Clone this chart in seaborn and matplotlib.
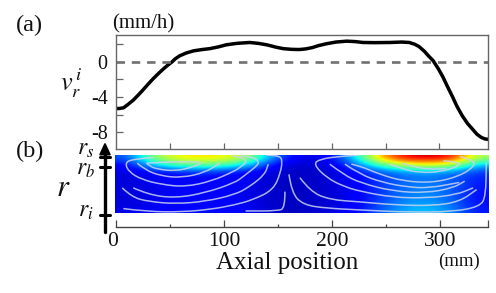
import numpy as np
import pandas as pd
import matplotlib.pyplot as plt
from matplotlib.path import Path
from matplotlib.patches import PathPatch
from matplotlib.transforms import ScaledTranslation
import seaborn as sns

W, H = 496, 293

# (a) radial velocity along the axis
axial_mm = [0, 3, 7, 11, 16, 20, 25, 30, 35, 40, 44, 48, 52, 55, 59, 65, 72, 80, 87, 95, 102, 112, 124,
            132, 140, 148, 155, 163, 170, 176, 182, 188, 195, 204, 214, 222, 229, 240, 254, 265, 272,
            277, 281, 286, 290, 294, 299, 303, 307, 312, 316, 321, 326, 331, 335, 339, 342, 345]
v_r = [-5.3, -5.3, -5.22, -4.85, -4.35, -3.85, -3.2, -2.5, -1.85, -1.25, -0.8, -0.38, 0, 0.35, 0.68, 1.0,
       1.25, 1.4, 1.5, 1.7, 1.93, 2.1, 2.2, 2.1, 1.93, 1.68, 1.5, 1.42, 1.4, 1.47, 1.62, 1.85, 2.05, 2.25,
       2.35, 2.3, 2.2, 2.18, 2.2, 2.25, 2.2, 2.0, 1.74, 1.2, 0.65, 0.15, -0.8, -1.67, -2.7, -3.94, -5.0,
       -6.1, -7.0, -7.7, -8.25, -8.6, -8.75, -8.8]

# (b) colour field, top row first, read by eye
field_row0 = [.20, .52, .66, .68, .66, .52, .22, .08, .10, .30, .68, .92, .95, .92, .55]
field_row1 = [.11, .32, .44, .47, .43, .29, .09, .07, .08, .19, .40, .56, .62, .56, .30]
field_row2 = [.08, .11, .13, .15, .13, .11, .07, .06, .07, .11, .18, .24, .26, .24, .17]
field_row3 = [.08, .10, .12, .13, .12, .10, .06, .06, .07, .11, .17, .23, .25, .22, .15]
field_row4 = [.08, .09, .11, .12, .11, .09, .06, .06, .07, .10, .17, .23, .26, .22, .14]
field_row5 = [.08, .09, .11, .12, .11, .09, .06, .06, .07, .10, .17, .24, .27, .22, .13]
field_row6 = [.08, .09, .11, .12, .11, .09, .06, .06, .07, .10, .18, .26, .28, .23, .13]
field_row7 = [.09, .11, .13, .14, .13, .10, .06, .06, .08, .11, .20, .29, .33, .26, .14]

# streamlines, (axial mm, height above the bottom of the panel)
stream_left = [
    [(28.4, 49), (31.5, 45.7), (39.2, 43), (54.6, 41.3), (70, 44.7), (82.4, 50.3), (56, 50.5), (28.4, 49)],
    [(19.7, 49), (26.8, 42.3), (42.3, 36.3), (60.8, 34.7), (82.4, 39.7), (96.3, 49)],
    [(35, 54.5), (15, 53), (8.3, 49), (12, 40.3), (23.7, 33), (42.3, 28), (64, 25.7), (88.6, 31.3), (110, 41.3),
     (115, 45), (121, 50), (119, 54), (108, 56)],
    [(16, 24.7), (30, 18), (54.6, 14.7), (82.4, 19.7), (110, 29.7), (118, 36), (129, 45), (133, 50), (127, 55), (115, 56)],
    [(5.8, 24.7), (14.5, 15.7), (30, 11.3), (54.6, 9), (82.4, 11.3), (110, 18), (124, 26), (138, 38), (141, 48)],
    [(6.8, 4.3), (30, 1.3), (60.8, 1), (88.6, 3.7), (110, 8), (127, 13), (146, 23), (152.5, 40), (154, 51), (152, 56), (139, 57)],
    [(156.5, 21), (156.5, 5), (150, 2), (120, 2)],
]
stream_right = [
    [(160.2, 38), (162.7, 19.7), (173.5, 8), (195, 4.7), (226, 3), (272, 0.7), (312, 1.3), (337, 6.3), (342.5, 16.3), (343, 49.7)],
    [(170.4, 34.7), (179.7, 21.3), (198, 13), (226, 11), (256.8, 8), (293.8, 7), (318.5, 11.3), (334, 23)],
    [(226, 57), (207.4, 55.7), (189, 53), (182.8, 48), (195, 34.7), (210.5, 26.3), (226, 21.3), (256.8, 15.3), (287.6, 14.7), (315.4, 18), (330.8, 24.7)],
    [(198, 48), (210.5, 38), (226, 29.7), (256.8, 21.3), (287.6, 19.7), (312.3, 24.7), (323, 31.3)],
    [(212, 48), (226, 38), (247, 30), (270, 25.5), (290, 24.5), (318, 30)],
    [(218, 48), (226, 46.3), (244.4, 38), (266, 31.3), (293.8, 29.7), (318.5, 36.3), (332.4, 46.3), (330.8, 51.3), (318.5, 55.7)],
    [(253.7, 48), (266, 43), (281.5, 39.7), (300, 40.3), (317, 45.7), (318.5, 49.7), (303, 51.3)],
    [(264.5, 49), (278.4, 44.7), (290.7, 43), (306, 43.7)],
]


def smooth_path(points):
    # quadratic spline through the midpoints of the read points
    verts = [points[0]]
    codes = [Path.MOVETO]
    for a, b in zip(points[1:-1], points[2:]):
        verts += [a, ((a[0] + b[0]) / 2, (a[1] + b[1]) / 2)]
        codes += [Path.CURVE3, Path.CURVE3]
    verts.append(points[-1])
    codes.append(Path.LINETO)
    return Path(verts, codes)


def box(left, top, right, bottom):
    return [left / W, 1 - bottom / H, (right - left) / W, (bottom - top) / H]


def put(x, y, s, size, **kw):
    fig.text(x / W, 1 - y / H, s, fontsize=size, ha='center', va='center', color='#111111', **kw)


sns.set_theme(style='ticks')
plt.rcParams['font.family'] = ['Liberation Serif', 'DejaVu Serif']
plt.rcParams['mathtext.fontset'] = 'stix'

grey = '#666666'
fig = plt.figure(figsize=(W / 100, H / 100), dpi=100)

# panel a
ax_a = fig.add_axes(box(116, 35, 488, 149))
df = pd.DataFrame({'axial': axial_mm, 'v': v_r})
sns.lineplot(data=df, x='axial', y='v', ax=ax_a, color='black', lw=2.5, errorbar=None)
ax_a.axhline(0, color='#707070', lw=1.9, dashes=(3.2, 2.6))
ax_a.set_xlim(0, 345)
ax_a.set_ylim(-9.9, 3.05)
ax_a.set_xlabel('')
ax_a.set_ylabel('')
ax_a.set_xticks([50, 100, 150, 200, 250, 300])
ax_a.set_xticklabels([])
ax_a.set_yticks([2, 0, -2, -4, -6, -8])
ax_a.set_yticklabels(['', '0', '', '-4', '', '-8'], fontsize=14.5, color='#111111')
ax_a.tick_params(direction='in', length=5, width=0.9, color=grey, pad=6)
ax_a.tick_params(axis='x', length=4)
for s in ax_a.spines.values():
    s.set_color(grey)
    s.set_linewidth(1.0)

# panel b
ax_b = fig.add_axes(box(112, 155, 489, 213))
field = np.array([field_row0, field_row1, field_row2, field_row3,
                  field_row4, field_row5, field_row6, field_row7])
ax_b.imshow(field, cmap='jet', vmin=0, vmax=1, aspect='auto', interpolation='bicubic',
            extent=(-1, 345, 0, 57))
for line in stream_left + stream_right:
    ax_b.add_patch(PathPatch(smooth_path(line), fill=False, ec='#c9d3ee', lw=1.1, alpha=0.85))
ax_b.set_xlim(-3.7, 345.5)
ax_b.set_ylim(0, 57)
ax_b.set_yticks([])
for name in ['top', 'left', 'right']:
    ax_b.spines[name].set_visible(False)
ax_b.spines['bottom'].set_position(('outward', 10))
ax_b.spines['bottom'].set_bounds(0, 345)
ax_b.spines['bottom'].set_color('#444444')
ax_b.spines['bottom'].set_linewidth(1.0)
ax_b.set_xticks([0, 100, 200, 300, 345])
ax_b.set_xticklabels(['0', '100', '200', '300', ''], fontsize=15.5, color='#111111')
ax_b.set_xticks([50, 150, 250], minor=True)
ax_b.tick_params(axis='x', which='major', direction='in', length=5, width=0.9, color='#444444', pad=3.5)
ax_b.tick_params(axis='x', which='minor', direction='in', length=2.2, width=0.9, color='#444444')
zero_label = ax_b.get_xticklabels()[0]
zero_label.set_transform(zero_label.get_transform() + ScaledTranslation(-0.03, 0, fig.dpi_scale_trans))

# r axis drawn beside the panels
fig.add_artist(plt.Line2D([105 / W, 105 / W], [1 - 232 / H, 1 - 150 / H], color='black', lw=2.4))
ax_b.annotate('', xy=(105, H - 142), xytext=(105, H - 153), xycoords='figure pixels',
              textcoords='figure pixels', annotation_clip=False,
              arrowprops=dict(arrowstyle='-|>,head_width=0.28,head_length=0.6', color='black', lw=1.5,
                              shrinkA=0, shrinkB=0))
for y_tick in [157, 167, 215]:
    fig.add_artist(plt.Line2D([100 / W, 110 / W], [1 - y_tick / H, 1 - y_tick / H], color='black', lw=2.2))

# labels
put(29, 25, '(a)', 17.5)
put(30, 151, '(b)', 17.5)
put(143, 24, '(mm/h)', 15)
put(71, 83, r'$v_r^{\,i}$', 19)
put(63, 188, r'$r$', 22)
put(86, 150, r'$r_s$', 17)
put(86, 170, r'$r_b$', 17)
put(86, 212, r'$r_i$', 17)
put(287, 263, 'Axial position', 18)
put(459, 261, '(mm)', 13.5)

plt.savefig('out.png', dpi=100)
